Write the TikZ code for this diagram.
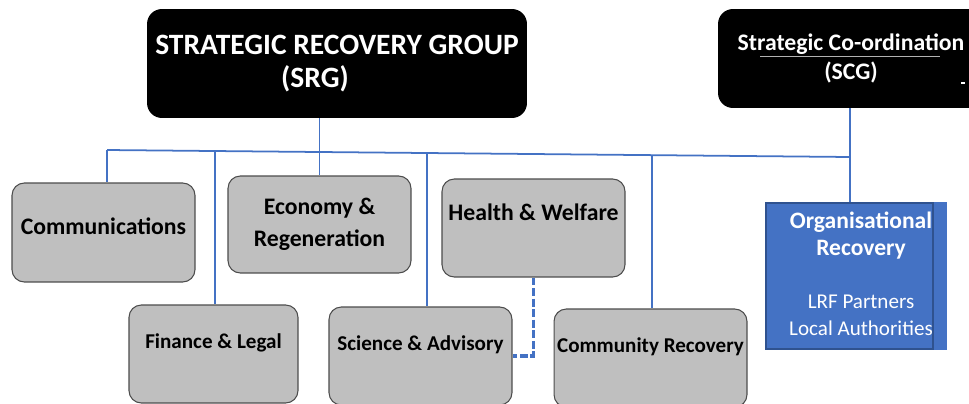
\documentclass[tikz,border=0pt]{standalone}
\usepackage{fontspec}
\setmainfont{Carlito}
\definecolor{unitgrey}{HTML}{BFBFBF}
\definecolor{linkblue}{HTML}{4472C4}
\definecolor{orgblue}{HTML}{4472C4}
\definecolor{orgedge}{HTML}{2F528F}
\usetikzlibrary{calc}

\newcommand{\orgtitle}{\fontsize{13.4}{15.3}\selectfont\bfseries}
\newcommand{\orgplain}{\fontsize{12}{15.3}\selectfont\mdseries}

\begin{document}
\begin{tikzpicture}[x=0.02cm, y=-0.02cm,
    group/.style    = {rectangle, rounded corners=8.5pt, fill=black, inner sep=0pt,
                       align=center, text=white},
    unit/.style     = {rectangle, rounded corners=7pt, draw=black!70, line width=0.6pt,
                       fill=unitgrey, inner sep=0pt, minimum width=3.66cm, align=center,
                       font=\fontsize{13.5}{18.5}\selectfont\bfseries},
    lowerunit/.style= {unit, minimum height=1.96cm,
                       font=\fontsize{12}{15}\selectfont\bfseries},
    orgbox/.style   = {rectangle, draw=orgedge, line width=0.8pt, fill=orgblue,
                       inner sep=0pt, minimum width=3.34cm, minimum height=2.92cm},
    link/.style     = {linkblue, line width=1pt},
    dashlink/.style = {linkblue, line width=1.9pt, dash pattern=on 4.5pt off 1.5pt},
  ]
    \useasboundingbox (0,0) rectangle (969,403);
    \clip (0,0) rectangle (969,403);

    % ── Group boxes ──────────────────────────────────────────
    \node[group, minimum width=7.6cm, minimum height=2.18cm,
          font=\fontsize{16.8}{18.7}\selectfont\bfseries] (srg) at (337,63.5)
          {STRATEGIC RECOVERY GROUP\\(SRG)\hspace*{0.88cm}};
    \node[group, minimum width=5.32cm, minimum height=1.98cm,
          font=\fontsize{13.5}{17}\selectfont\bfseries] (scg) at (851,58.5)
          {Strategic Co-ordination\\(SCG)};
    \draw[gray!60, line width=0.6pt] (760,56.5) -- (940,56.5);
    \draw[white, line width=0.8pt] (961,83) -- (965,83);

    % ── Cells ────────────────────────────────────────────────
    \node[unit, minimum height=1.98cm] (comm)   at (103.5,232.5) {Communications\\[-11.7pt]\mbox{}};
    \node[unit, minimum height=1.94cm] (econ)   at (319.5,224.5) {Economy \&\\Regeneration};
    \node[unit, minimum height=1.96cm] (health) at (533.5,228)   {Health \& Welfare\\\mbox{}};
    \node[lowerunit, minimum width=3.38cm] (fin) at (213.5,354) {Finance \& Legal\\\mbox{}};
    \node[lowerunit] (sci) at (420.5,356) {Science \& Advisory\\\mbox{}};
    \node[lowerunit, minimum width=3.86cm] (com) at (650.5,358) {Community Recovery\\\mbox{}};

    % ── Organisational recovery ─────────────────────────────
    \node[orgbox] (org) at (849.5,276) {};
    \fill[orgblue] ([xshift=0.4pt]org.north east) rectangle ([xshift=0.26cm]org.south east);
    \node[align=center, text=white, inner sep=0pt, font=\fontsize{12}{15.3}\selectfont]
          (orgtext) at (861,274)
          {\orgtitle Organisational\\\orgtitle Recovery\\[14.7pt]
           \orgplain LRF Partners\\\orgplain Local Authorities};

    % ── Connectors ───────────────────────────────────────────
    \coordinate (busL)   at (107,150);
    \coordinate (busFin) at (215,151);
    \coordinate (busSci) at (427,153);
    \coordinate (busCom) at (652,155);
    \coordinate (busR)   at (850,157);
    \draw[link] (busL) -- (busR);
    \draw[link] (busL)   -- (busL |- comm.north);
    \draw[link] (busFin) -- (busFin |- fin.north);
    \draw[link] (econ.north |- srg.south) -- (econ.north);
    \draw[link] (busSci) -- (busSci |- sci.north);
    \draw[link] (busCom) -- (busCom |- com.north);
    \draw[link] (busR |- scg.south) -- (busR |- org.north);
    \draw[dashlink] (health.south) |- (sci.east);

  \end{tikzpicture}
\end{document}
